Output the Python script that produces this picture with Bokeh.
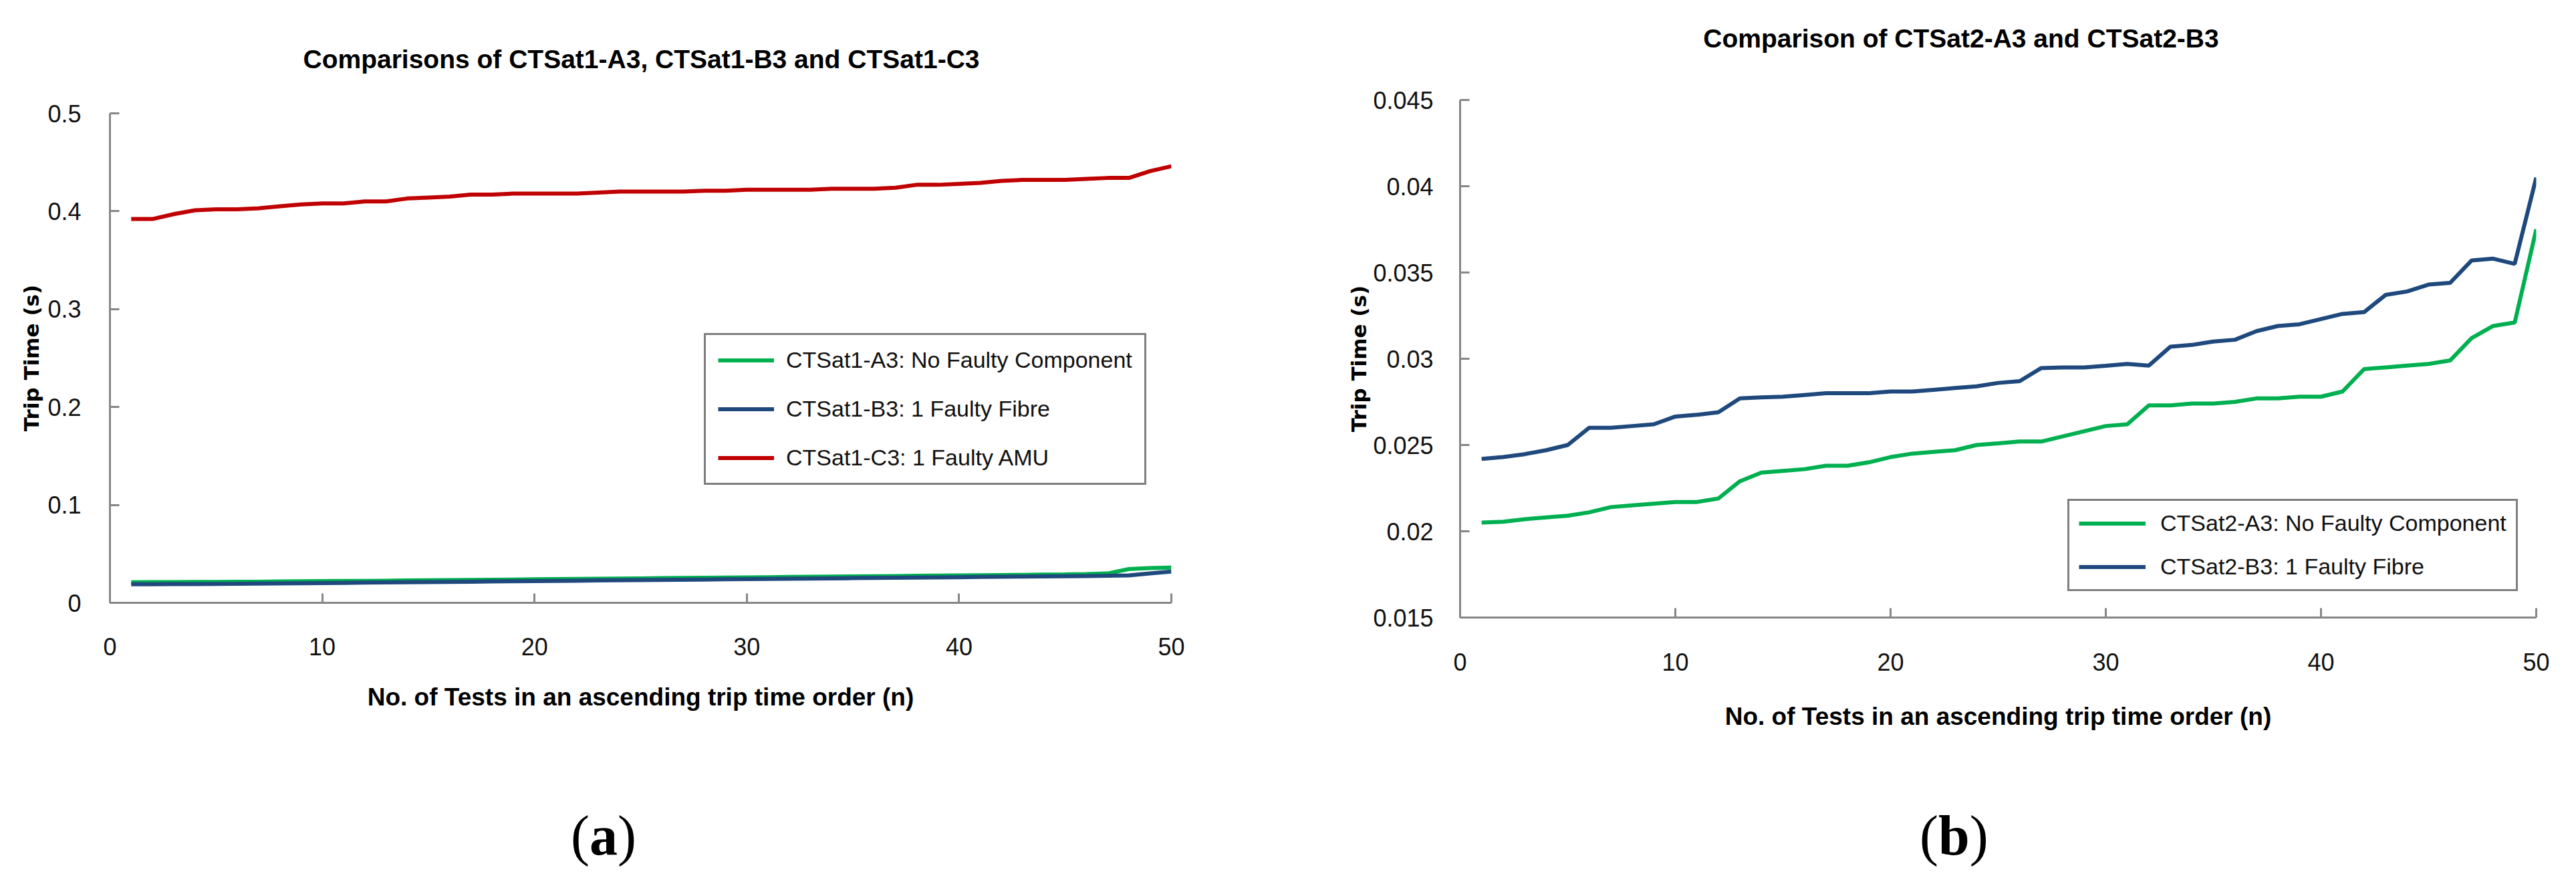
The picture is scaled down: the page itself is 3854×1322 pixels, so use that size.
from bokeh.plotting import figure
from bokeh.layouts import row, column
from bokeh.models import (Range1d, FixedTicker, NumeralTickFormatter, Legend, LegendItem, Div)
from bokeh.embed import file_html
from bokeh.resources import INLINE

# ---------------- data ----------------
tests = list(range(1, 51))

# chart (a)
sat1_a3 = [0.0210, 0.0211, 0.0212, 0.0213, 0.0214, 0.0215, 0.0216, 0.0218, 0.0220, 0.0222,
           0.0223, 0.0224, 0.0226, 0.0228, 0.0230, 0.0232, 0.0234, 0.0236, 0.0238, 0.0240,
           0.0242, 0.0244, 0.0246, 0.0248, 0.0250, 0.0252, 0.0254, 0.0256, 0.0258, 0.0260,
           0.0262, 0.0264, 0.0266, 0.0268, 0.0270, 0.0272, 0.0274, 0.0276, 0.0278, 0.0280,
           0.0282, 0.0284, 0.0286, 0.0288, 0.0290, 0.0293, 0.0300, 0.0345, 0.0355, 0.0360]
sat1_b3 = [0.0190, 0.0190, 0.0191, 0.0192, 0.0193, 0.0194, 0.0196, 0.0198, 0.0200, 0.0202,
           0.0204, 0.0206, 0.0208, 0.0210, 0.0212, 0.0214, 0.0216, 0.0218, 0.0220, 0.0222,
           0.0224, 0.0226, 0.0228, 0.0230, 0.0232, 0.0234, 0.0236, 0.0238, 0.0240, 0.0242,
           0.0244, 0.0246, 0.0248, 0.0250, 0.0252, 0.0254, 0.0256, 0.0258, 0.0260, 0.0262,
           0.0264, 0.0266, 0.0268, 0.0270, 0.0272, 0.0274, 0.0276, 0.0280, 0.0300, 0.0320]
sat1_c3 = [0.392, 0.392, 0.397, 0.401, 0.402, 0.402, 0.403, 0.405, 0.407, 0.408,
           0.408, 0.410, 0.410, 0.413, 0.414, 0.415, 0.417, 0.417, 0.418, 0.418,
           0.418, 0.418, 0.419, 0.420, 0.420, 0.420, 0.420, 0.421, 0.421, 0.422,
           0.422, 0.422, 0.422, 0.423, 0.423, 0.423, 0.424, 0.427, 0.427, 0.428,
           0.429, 0.431, 0.432, 0.432, 0.432, 0.433, 0.434, 0.434, 0.441, 0.446]

# chart (b)
sat2_a3 = [0.0205, 0.02055, 0.0207, 0.0208, 0.0209, 0.0211, 0.0214, 0.0215, 0.0216, 0.0217,
           0.0217, 0.0219, 0.0229, 0.0234, 0.0235, 0.0236, 0.0238, 0.0238, 0.0240, 0.0243,
           0.0245, 0.0246, 0.0247, 0.0250, 0.0251, 0.0252, 0.0252, 0.0255, 0.0258, 0.0261,
           0.0262, 0.0273, 0.0273, 0.0274, 0.0274, 0.0275, 0.0277, 0.0277, 0.0278, 0.0278,
           0.0281, 0.0294, 0.0295, 0.0296, 0.0297, 0.0299, 0.0312, 0.0319, 0.0321, 0.0375]
sat2_b3 = [0.0242, 0.0243, 0.02447, 0.0247, 0.0250, 0.0260, 0.0260, 0.0261, 0.0262, 0.02665,
           0.02675, 0.0269, 0.0277, 0.02776, 0.0278, 0.0279, 0.0280, 0.0280, 0.0280, 0.0281,
           0.0281, 0.0282, 0.0283, 0.0284, 0.0286, 0.0287, 0.02946, 0.0295, 0.0295, 0.02959,
           0.0297, 0.0296, 0.0307, 0.0308, 0.0310, 0.0311, 0.0316, 0.0319, 0.0320, 0.0323,
           0.0326, 0.0327, 0.0337, 0.0339, 0.0343, 0.0344, 0.0357, 0.0358, 0.0355, 0.0405]

x_ticks = [0, 10, 20, 30, 40, 50]
y_ticks_a = [0, 0.1, 0.2, 0.3, 0.4, 0.5]
y_ticks_b = [0.015, 0.02, 0.025, 0.03, 0.035, 0.04, 0.045]

title_a = "Comparisons of CTSat1-A3, CTSat1-B3 and CTSat1-C3"
title_b = "Comparison of CTSat2-A3 and CTSat2-B3"
x_title = "No. of Tests in an ascending trip time order (n)"
y_title = "Trip Time (s)"
labels_a = ["CTSat1-A3: No Faulty Component", "CTSat1-B3: 1 Faulty Fibre", "CTSat1-C3: 1 Faulty AMU"]
labels_b = ["CTSat2-A3: No Faulty Component", "CTSat2-B3: 1 Faulty Fibre"]
caption_a = "a"
caption_b = "b"

GREEN = "#00B050"
BLUE = "#1F497D"
RED = "#C00000"
AXIS = "#868686"
SANS = "Liberation Sans"


def make_fig(width, height, b_left, b_right, b_top, b_bottom, y_range, y_ticks, y_fmt,
             tick_std_x, tick_std_y, xlab_std, ylab_std):
    p = figure(width=width, height=height, output_backend="svg", toolbar_location=None,
               x_range=Range1d(0, 50), y_range=Range1d(*y_range),
               min_border_left=b_left, min_border_right=b_right,
               min_border_top=b_top, min_border_bottom=b_bottom)
    p.outline_line_color = None
    p.grid.visible = False
    p.background_fill_color = "white"
    p.border_fill_color = "white"
    for ax in (p.xaxis[0], p.yaxis[0]):
        ax.axis_line_color = AXIS
        ax.axis_line_width = 3
        ax.major_tick_line_color = AXIS
        ax.major_tick_line_width = 3
        ax.major_tick_in = 14
        ax.major_tick_out = 0
        ax.minor_tick_line_color = None
        ax.major_label_text_font = SANS
        ax.major_label_text_font_size = "36px"
        ax.major_label_text_color = "#111111"
        ax.axis_label_text_color = "#000000"
    p.xaxis.ticker = FixedTicker(ticks=x_ticks)
    p.yaxis.ticker = FixedTicker(ticks=y_ticks)
    p.yaxis.formatter = NumeralTickFormatter(format=y_fmt)
    p.xaxis.major_label_standoff = tick_std_x
    p.yaxis.major_label_standoff = tick_std_y
    p.xaxis.axis_label = x_title
    p.xaxis.axis_label_text_font = SANS
    p.xaxis.axis_label_text_font_style = "bold"
    p.xaxis.axis_label_text_font_size = "37px"
    p.xaxis.axis_label_standoff = xlab_std
    p.yaxis.axis_label = y_title
    p.yaxis.axis_label_text_font = "DejaVu Sans"
    p.yaxis.axis_label_text_font_style = "bold"
    p.yaxis.axis_label_text_font_size = "31px"
    p.yaxis.axis_label_standoff = ylab_std
    return p


def title_div(text, pad_top, pad_left):
    html = ('<div style="font-family:\'Liberation Sans\',sans-serif;font-size:39px;font-weight:bold;'
            'line-height:1;margin:0;padding:%dpx 0 0 %dpx;width:1919px;box-sizing:border-box;'
            'display:block;text-align:center;color:black;white-space:nowrap;">%s</div>'
            % (pad_top, pad_left, text))
    return Div(text=html, width=1919, height=120, margin=(0, 0, 0, 0))


def caption(letter, pad_left):
    html = ('<div style="font-family:\'Liberation Serif\',serif;font-size:84px;line-height:1;'
            'margin:0;padding:8px 0 0 %dpx;color:black;white-space:nowrap;">(<b>%s</b>)</div>'
            % (pad_left, letter))
    return Div(text=html, width=1919, height=106, margin=(0, 0, 0, 0))


# ---------------- chart (a) ----------------
pa = make_fig(1919, 1080, 164, 167, 49, 299, (0, 0.5), y_ticks_a, "0.[0]",
              52, 43, 39, 3)
ra1 = pa.line(tests, sat1_a3, line_width=6, line_color=GREEN)
ra2 = pa.line(tests, sat1_b3, line_width=6, line_color=BLUE)
ra3 = pa.line(tests, sat1_c3, line_width=6, line_color=RED)
leg_a = Legend(items=[LegendItem(label=labels_a[0], renderers=[ra1]),
                      LegendItem(label=labels_a[1], renderers=[ra2]),
                      LegendItem(label=labels_a[2], renderers=[ra3])],
               location=(889, 176), orientation="vertical",
               label_text_font=SANS, label_text_font_size="34px", label_text_color="#111111",
               glyph_width=84, glyph_height=39, label_height=39, label_standoff=18,
               spacing=34, padding=18, margin=0,
               border_line_color="black", border_line_width=3,
               background_fill_color="white", background_fill_alpha=1.0)
pa.add_layout(leg_a)

# ---------------- chart (b) ----------------
pb = make_fig(1919, 1080, 265, 44, 29, 277, (0.015, 0.045), y_ticks_b, "0.[000]",
              53, 40, 45, 0)
rb1 = pb.line(tests, sat2_a3, line_width=6, line_color=GREEN)
rb2 = pb.line(tests, sat2_b3, line_width=6, line_color=BLUE)
leg_b = Legend(items=[LegendItem(label=labels_b[0], renderers=[rb1]),
                      LegendItem(label=labels_b[1], renderers=[rb2])],
               location=(909, 39), orientation="vertical",
               label_text_font=SANS, label_text_font_size="34px", label_text_color="#111111",
               glyph_width=100, glyph_height=39, label_height=39, label_standoff=22,
               spacing=26, padding=14, margin=0,
               border_line_color="black", border_line_width=3,
               background_fill_color="white", background_fill_alpha=1.0)
pb.add_layout(leg_b)

col_a = column(title_div(title_a, 69, 0), pa, caption(caption_a, 854))
col_b = column(title_div(title_b, 38, 111), pb, caption(caption_b, 953))

layout = row(col_a, col_b)
open("out.html", "w").write(file_html(layout, INLINE))
